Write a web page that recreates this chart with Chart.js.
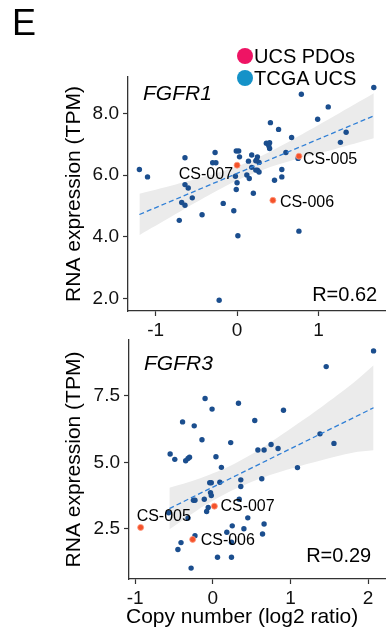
<!DOCTYPE html>
<html>
<head>
<meta charset="utf-8">
<script src="https://cdn.jsdelivr.net/npm/chart.js@4.4.1/dist/chart.umd.min.js"></script>
<style>
  html, body { margin: 0; padding: 0; background: #fff; }
  #wrap { position: relative; width: 390px; height: 629px; font-family: "Liberation Sans", Arial, sans-serif; color: #000; }
  canvas { position: absolute; left: 0; top: 0; }
  .letter { position: absolute; left: 12px; top: 5px; font-size: 36px; line-height: 36px; }
  .dot { position: absolute; left: 237px; width: 16px; height: 16px; border-radius: 50%; }
  .leg { position: absolute; left: 254px; font-size: 20px; line-height: 20px; white-space: nowrap; }
  .xtitle { position: absolute; left: 126px; top: 604px; font-size: 21px; line-height: 24px; white-space: nowrap; }
</style>
</head>
<body>
<div id="wrap">
  <canvas id="chart-fgfr1" width="390" height="629"></canvas>
  <canvas id="chart-fgfr3" width="390" height="629"></canvas>
  <div class="letter">E</div>
  <div class="dot" style="top:48px;background:#ee1464"></div>
  <div class="leg" style="top:46px">UCS PDOs</div>
  <div class="dot" style="top:70px;background:#1592c8"></div>
  <div class="leg" style="top:68px">TCGA UCS</div>
  <div class="xtitle">Copy number (log2 ratio)</div>
</div>
<script>
const FONT = '"Liberation Sans", Arial, sans-serif';

// PDO sample names (same order in both panels)
const pdoNames = ['CS-005', 'CS-006', 'CS-007'];

// FGFR1 - TCGA UCS
const fgfr1CN = [1.68, 0.79, 1.12, 0.99, 0.41, 0.51, 1.34, 0.67, 1.27,
  0.36, 0.40, 0.39, 0.40,
  -0.27, -0.01, 0.02, -0.64, -0.30, -0.26, 0.03, 0.18, 0.14,
  0.25, 0.24, 0.23, 0.27, 0.60, 0.75,
  -1.20, -1.10, 0.18, 0.25, 0.27, 0.23, 0.55, 0.55, 0.46,
  -0.02, 0.12, 0.15, 0.00, -0.01, -0.64, -0.60, 0.20, -0.55,
  -0.68, -0.64, -0.17, -0.43, -0.04, -0.71, 0.01, 0.76, -0.22];
const fgfr1TPM = [8.84, 8.62, 8.21, 7.81, 7.70, 7.48, 7.39, 7.22, 7.06,
  7.03, 7.05, 6.95, 6.86,
  6.73, 6.78, 6.78, 6.56, 6.40, 6.40, 6.59, 6.65, 6.45,
  6.59, 6.49, 6.46, 6.41, 6.73, 6.54,
  6.18, 5.94, 6.25, 6.16, 6.10, 6.16, 6.18, 5.94, 5.83,
  5.96, 6.00, 5.89, 5.75, 5.53, 5.69, 5.58, 5.41, 5.26,
  5.11, 5.02, 5.08, 4.71, 4.84, 4.53, 4.03, 4.18, 1.94];
// FGFR1 - UCS PDOs
const fgfr1PdoCN = [0.76, 0.44, 0.00];
const fgfr1PdoTPM = [6.61, 5.18, 6.32];
// FGFR1 - fit line and confidence band
const fgfr1FitCN = [-1.20, 1.68];
const fgfr1FitTPM = [4.72, 7.92];
const fgfr1BandCN = [-1.20, -0.80, -0.40, 0.00, 0.40, 0.80, 1.20, 1.68];
const fgfr1BandHi = [5.39, 5.66, 5.95, 6.28, 6.75, 7.32, 7.92, 8.65];
const fgfr1BandLo = [4.05, 4.66, 5.27, 5.82, 6.25, 6.57, 6.84, 7.19];
const fgfr1XTicks = [-1, 0, 1];
const fgfr1YTicks = [2, 4, 6, 8];

// FGFR3 - TCGA UCS
const fgfr3CN = [2.07, 1.46, -0.10, 0.33, -0.01, 0.91, -0.39, 0.54, -0.24, -0.14,
  0.23, 1.38, 1.56, 0.75, 0.84, 0.58, 0.66, -0.55, -0.49, -0.30,
  -0.35, -0.32, 0.04, 0.11, 1.09, 0.36, 0.63, -0.04, -0.02, 0.09,
  0.36, -0.03, -0.02, -0.25, -0.23, -0.11, 0.34, -0.06, -0.08, -0.57,
  -0.32, 0.45, 0.25, 0.66, 0.40, 0.18, 0.64, -0.23, -0.41, 0.24,
  -0.45, 0.06, 0.24, -0.28];
const fgfr3TPM = [9.19, 8.60, 7.40, 7.22, 7.00, 6.96, 6.52, 6.57, 6.37, 5.85,
  5.74, 6.07, 5.71, 5.67, 5.52, 5.46, 5.46, 5.31, 5.11, 5.19,
  5.06, 5.14, 5.21, 4.81, 4.80, 4.34, 4.38, 4.23, 4.23, 4.25,
  4.09, 3.86, 3.75, 3.57, 3.57, 3.61, 3.61, 3.30, 3.15, 3.10,
  2.90, 2.91, 2.61, 2.68, 2.50, 2.37, 2.30, 2.24, 1.98, 1.99,
  1.72, 1.43, 1.43, 1.02];
// FGFR3 - UCS PDOs
const fgfr3PdoCN = [-0.93, -0.26, 0.02];
const fgfr3PdoTPM = [2.55, 2.10, 3.35];
// FGFR3 - fit line and confidence band
const fgfr3FitCN = [-0.56, 2.07];
const fgfr3FitTPM = [3.26, 7.05];
const fgfr3BandCN = [-0.56, -0.20, 0.20, 0.60, 1.00, 1.40, 1.80, 2.07];
const fgfr3BandHi = [4.04, 4.36, 4.83, 5.48, 6.26, 7.08, 7.96, 8.65];
const fgfr3BandLo = [2.48, 3.20, 3.87, 4.38, 4.76, 5.08, 5.36, 5.45];
const fgfr3XTicks = [-1, 0, 1, 2];
const fgfr3YTicks = [2.5, 5.0, 7.5];

const pts = (xs, ys) => xs.map((x, i) => ({ x: x, y: ys[i] }));

function makePanel(canvasId, p) {
    // gene name, R value and PDO labels drawn over the plot
    const panelText = {
        id: 'panelText',
        afterDatasetsDraw(chart) {
            const { ctx, chartArea, scales } = chart;
            ctx.save();
            ctx.fillStyle = '#000';
            ctx.textBaseline = 'middle';
            ctx.textAlign = 'left';
            ctx.font = 'italic 21px ' + FONT;
            ctx.fillText(p.gene, chartArea.left + 15, chartArea.top + p.geneDy);
            ctx.textAlign = 'right';
            ctx.font = '20px ' + FONT;
            ctx.fillText(p.rText, chartArea.right + p.rDx, chartArea.bottom + p.rDy);
            ctx.font = '16px ' + FONT;
            pdoNames.forEach((name, i) => {
                const x = scales.x.getPixelForValue(p.pdoCN[i]);
                const y = scales.y.getPixelForValue(p.pdoTPM[i]);
                const off = p.labelOffsets[i];
                ctx.textAlign = off[2];
                ctx.fillText(name, x + off[0], y + off[1]);
            });
            ctx.restore();
        }
    };

    const tickFont = { family: FONT, size: 19 };
    const titleFont = { family: FONT, size: 21 };

    return new Chart(document.getElementById(canvasId), {
        type: 'scatter',
        data: {
            datasets: [
                {
                    type: 'line', data: pts(p.bandCN, p.bandHi), fill: '+1',
                    backgroundColor: '#ebebeb', borderWidth: 0, pointRadius: 0,
                    tension: 0.3, order: 4
                },
                {
                    type: 'line', data: pts(p.bandCN, p.bandLo), fill: false,
                    borderWidth: 0, pointRadius: 0, tension: 0.3, order: 4
                },
                {
                    label: 'TCGA UCS', data: pts(p.cn, p.tpm),
                    backgroundColor: '#1b4e8e', borderWidth: 0, pointRadius: 2.7, order: 3
                },
                {
                    type: 'line', data: pts(p.fitCN, p.fitTPM), fill: false,
                    borderColor: '#2f7fd6', borderWidth: 1.3, borderDash: [5, 3],
                    pointRadius: 0, order: 2
                },
                {
                    label: 'UCS PDOs', data: pts(p.pdoCN, p.pdoTPM),
                    backgroundColor: '#f4522a', borderColor: '#ff9a80', borderWidth: 0.8,
                    pointRadius: 3, order: 1
                }
            ]
        },
        options: {
            responsive: false,
            animation: false,
            devicePixelRatio: 1,
            layout: { padding: p.padding },
            plugins: { legend: { display: false }, tooltip: { enabled: false } },
            scales: {
                x: {
                    type: 'linear', min: p.xMin, max: p.xMax,
                    afterBuildTicks: (s) => { s.ticks = p.xTicks.map(v => ({ value: v })); },
                    afterFit: (s) => { s.height = p.xAxisHeight; },
                    ticks: { font: tickFont, color: '#111', padding: 3, callback: v => String(v) },
                    grid: { drawOnChartArea: false, color: '#333', tickLength: 5, tickWidth: 1.2 },
                    border: { color: '#333', width: 1.3 }
                },
                y: {
                    type: 'linear', min: p.yMin, max: p.yMax,
                    afterBuildTicks: (s) => { s.ticks = p.yTicks.map(v => ({ value: v })); },
                    afterFit: (s) => { s.width = p.yAxisWidth; },
                    ticks: { font: tickFont, color: '#111', padding: 4, callback: v => v.toFixed(1) },
                    grid: { drawOnChartArea: false, color: '#333', tickLength: 5, tickWidth: 1.2 },
                    border: { color: '#333', width: 1.3 },
                    title: {
                        display: true, text: 'RNA expression (TPM)', font: titleFont, color: '#000',
                        padding: { top: 62, bottom: 0 }
                    }
                }
            }
        },
        plugins: [panelText]
    });
}

makePanel('chart-fgfr1', {
    cn: fgfr1CN, tpm: fgfr1TPM, pdoCN: fgfr1PdoCN, pdoTPM: fgfr1PdoTPM,
    fitCN: fgfr1FitCN, fitTPM: fgfr1FitTPM,
    bandCN: fgfr1BandCN, bandHi: fgfr1BandHi, bandLo: fgfr1BandLo,
    xTicks: fgfr1XTicks, yTicks: fgfr1YTicks,
    xMin: -1.34, xMax: 1.82, yMin: 1.59, yMax: 9.18,
    padding: { top: 77, right: 2, bottom: 288, left: 0 },
    xAxisHeight: 30, yAxisWidth: 128,
    gene: 'FGFR1', geneDy: 17, rText: 'R=0.62', rDx: -8, rDy: -16,
    labelOffsets: [[4, 3, 'left'], [7, 2, 'left'], [-4, 9, 'right']]
});

makePanel('chart-fgfr3', {
    cn: fgfr3CN, tpm: fgfr3TPM, pdoCN: fgfr3PdoCN, pdoTPM: fgfr3PdoTPM,
    fitCN: fgfr3FitCN, fitTPM: fgfr3FitTPM,
    bandCN: fgfr3BandCN, bandHi: fgfr3BandHi, bandLo: fgfr3BandLo,
    xTicks: fgfr3XTicks, yTicks: fgfr3YTicks,
    xMin: -1.08, xMax: 2.22, yMin: 0.61, yMax: 9.6,
    padding: { top: 340, right: 1, bottom: 0, left: 0 },
    xAxisHeight: 50, yAxisWidth: 129,
    gene: 'FGFR3', geneDy: 24, rText: 'R=0.29', rDx: -14, rDy: -23,
    labelOffsets: [[-4, -11, 'left'], [8, 1, 'left'], [6, 0, 'left']]
});
</script>
</body>
</html>
